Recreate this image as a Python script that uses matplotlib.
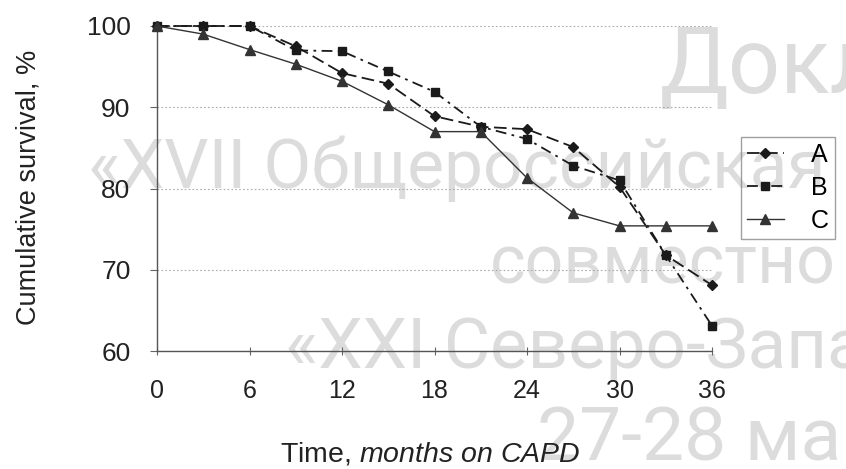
import matplotlib

matplotlib.use("Agg")

import matplotlib.pyplot as plt

# survival tables, months on CAPD vs cumulative survival (%)
months = [0, 3, 6, 9, 12, 15, 18, 21, 24, 27, 30, 33, 36]
surv_a = [100, 100, 100, 97.5, 94.2, 92.9, 88.9, 87.6, 87.3, 85.1, 80.2, 71.8, 68.1]
surv_b = [100, 100, 100, 97.0, 96.9, 94.4, 91.9, 87.6, 86.1, 82.8, 81.0, 71.8, 63.1]
surv_c = [100, 99.0, 97.1, 95.3, 93.2, 90.3, 87.0, 87.0, 81.3, 77.0, 75.4, 75.4, 75.4]
series_names = ["A", "B", "C"]

x_ticks = [0, 6, 12, 18, 24, 30, 36]
y_ticks = [60, 70, 80, 90, 100]

# background stamp: text, left x (px), baseline y (px), size (pt)
watermark_lines = [
    ("Докл", 660, 93, 66),
    ("«XVII Общероссийская", 88, 188, 50),
    ("совместно", 490, 283, 49),
    ("«XXI Северо-Запа", 285, 368, 51),
    ("27-28 ма", 537, 460, 54),
]

W, H = 846, 469
plt.rcParams["font.family"] = ["Liberation Sans", "DejaVu Sans"]
plt.rcParams["mathtext.fontset"] = "custom"
plt.rcParams["mathtext.rm"] = "Liberation Sans"
plt.rcParams["mathtext.it"] = "Liberation Sans:italic"

fig = plt.figure(figsize=(W / 100, H / 100), dpi=100)

for text, x0, base, size in watermark_lines:
    fig.text(x0 / W, 1 - base / H, text, fontsize=size, family="Roboto",
             color="#dcdcdc", ha="left", va="baseline", zorder=-5)

ax = fig.add_axes([157 / W, 1 - 351 / H, 555 / W, 325 / H])
ax.patch.set_alpha(0)

ink = "#1a1a1a"
ax.plot(months, surv_a, color=ink, lw=1.3, ls=(0, (7, 3)), marker="D",
        ms=5.5, clip_on=False, label=series_names[0], zorder=3)
ax.plot(months, surv_b, color=ink, lw=1.3, ls=(0, (6, 3, 1.5, 3)), marker="s",
        ms=6, clip_on=False, label=series_names[1], zorder=3)
ax.plot(months, surv_c, color="#333333", lw=1.0, ls="-", marker="^",
        ms=7, clip_on=False, label=series_names[2], zorder=3)

ax.set_xlim(0, 36)
ax.set_ylim(60, 100)
ax.set_xticks(x_ticks)
ax.set_yticks(y_ticks)
ax.tick_params(axis="both", colors="#222222")
ax.tick_params(axis="x", labelsize=18, direction="inout", length=6,
               width=0.8, pad=17, color="#666666")
ax.tick_params(axis="y", labelsize=19, direction="out", length=5,
               width=0.8, pad=14, color="#666666")

for side in ("top", "right"):
    ax.spines[side].set_visible(False)
for side in ("left", "bottom"):
    ax.spines[side].set_color("#555555")
    ax.spines[side].set_linewidth(1.0)

ax.yaxis.grid(True, ls=(0, (1.5, 2)), color="#aaaaaa", lw=0.8)
ax.set_axisbelow(True)

ax.set_ylabel("Cumulative survival, %", fontsize=19.5, color="#222222")
ax.yaxis.set_label_coords(-(157 - 42) / 555, (351 - 187) / 325)
ax.set_xlabel("Time, $\\it{months\\ on\\ CAPD}$", fontsize=20.5,
              color="#222222")
ax.xaxis.set_label_coords((430 - 157) / 555, -(440 - 351) / 325)

leg = fig.legend(loc="upper left", bbox_to_anchor=(741 / W, 1 - 137 / H),
                 fontsize=18, frameon=True, fancybox=False, handlelength=1.45,
                 handletextpad=1.1, borderpad=0.25, labelspacing=0.36,
                 borderaxespad=0)
leg.get_frame().set_facecolor("none")
leg.get_frame().set_edgecolor("#888888")
leg.get_frame().set_linewidth(1.0)

fig.savefig("out.png", dpi=100)
